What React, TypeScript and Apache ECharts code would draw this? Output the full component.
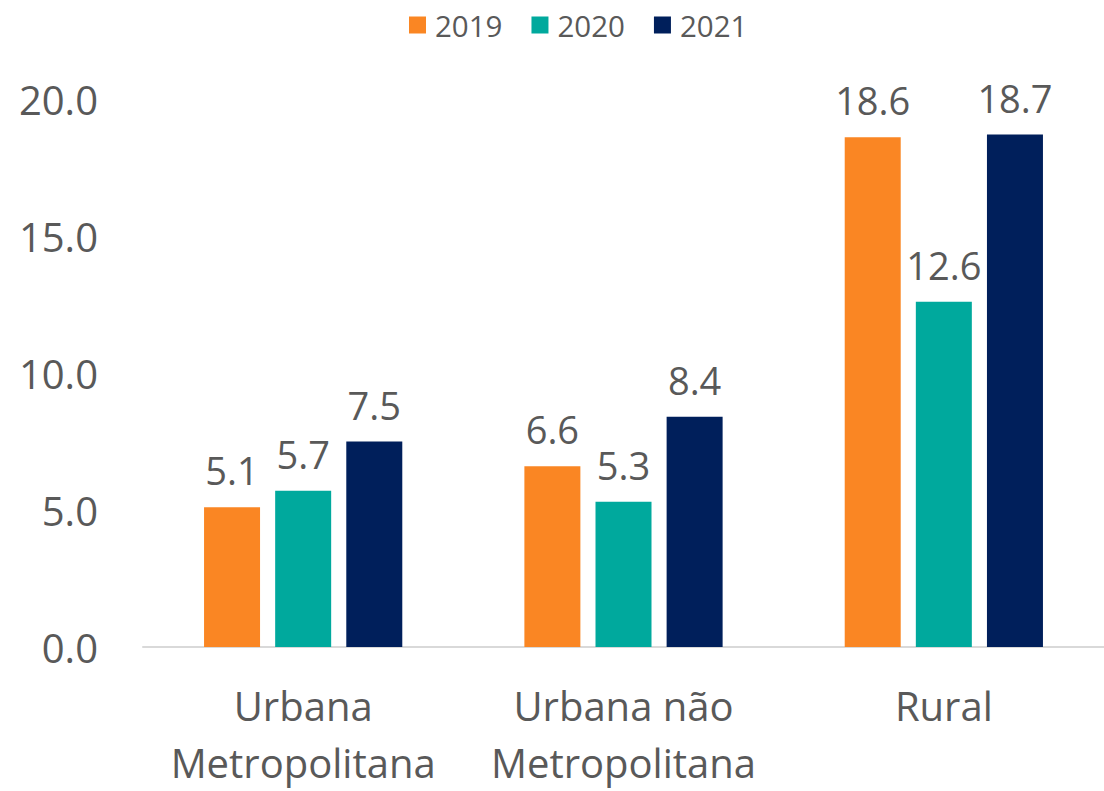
import React, { useEffect, useRef } from "react";
import * as echarts from "echarts";

const categories = ["Urbana\nMetropolitana", "Urbana não\nMetropolitana", "Rural"];
const years = ["2019", "2020", "2021"];
const values2019 = [5.1, 6.6, 18.6];
const values2020 = [5.7, 5.3, 12.6];
const values2021 = [7.5, 8.4, 18.7];
const colors = ["#FA8623", "#00A99D", "#001F5B"];
const FONT = "'Open Sans', sans-serif";

export default function App() {
  const ref = useRef<HTMLDivElement>(null);
  useEffect(() => {
    const chart = echarts.init(ref.current!, null, { renderer: "svg" });
    const seriesData = [values2019, values2020, values2021];
    chart.setOption({
      animation: false,
      textStyle: { fontFamily: FONT },
      legend: {
        top: 5,
        left: 404,
        itemWidth: 17,
        itemHeight: 17,
        itemGap: 29,
        icon: "rect",
        textStyle: { fontSize: 29.5, color: "#595959", fontFamily: FONT, padding: [0, 0, 0, 4] },
        data: years,
      },
      grid: { left: 143, right: -17, top: 99, bottom: 132, containLabel: false },
      xAxis: {
        type: "category",
        data: categories,
        axisLine: { show: true, lineStyle: { color: "#D9D9D9", width: 2 } },
        axisTick: { show: false },
        axisLabel: {
          fontSize: 40,
          color: "#595959",
          fontFamily: FONT,
          lineHeight: 57,
          margin: 30,
          interval: 0,
        },
      },
      yAxis: {
        type: "value",
        min: 0,
        max: 20,
        interval: 5,
        splitLine: { show: false },
        axisLine: { show: false },
        axisTick: { show: false },
        axisLabel: {
          fontSize: 40,
          color: "#595959",
          fontFamily: FONT,
          margin: 45,
          formatter: (v: number) => v.toFixed(1),
        },
      },
      series: years.map((y, i) => ({
        name: y,
        type: "bar",
        data: seriesData[i],
        barWidth: 56,
        barGap: "27%",
        itemStyle: { color: colors[i] },
        label: {
          show: true,
          position: "top",
          distance: 18,
          fontSize: 38,
          color: "#595959",
          fontFamily: FONT,
          formatter: (p: any) => p.value.toFixed(1),
        },
      })),
    });
    return () => chart.dispose();
  }, []);
  return (
    <div
      ref={ref}
      style={{ position: "absolute", left: 0, top: 0, width: 1104, height: 791, background: "#fff" }}
    />
  );
}
